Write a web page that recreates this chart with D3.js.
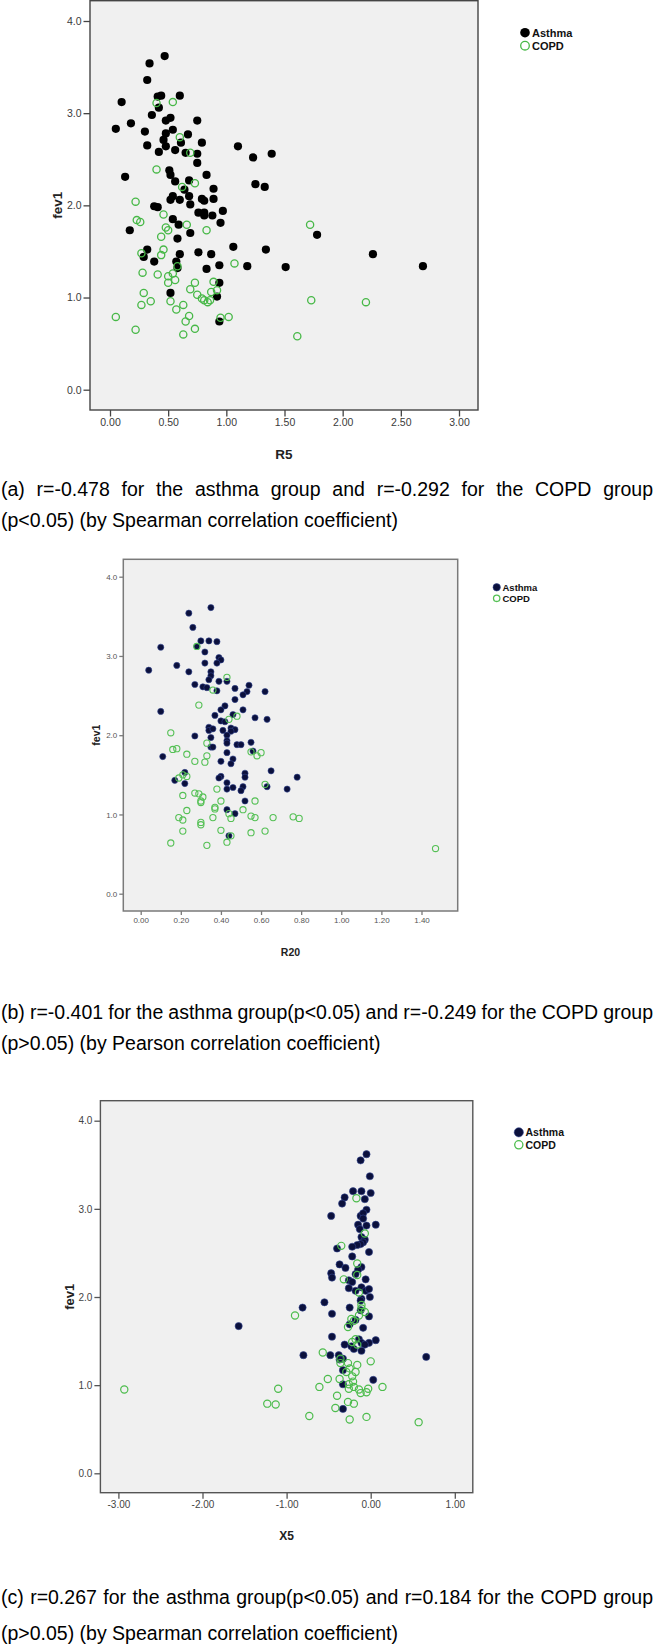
<!DOCTYPE html>
<html><head><meta charset="utf-8">
<script src="https://cdn.jsdelivr.net/npm/d3@7"></script>
<style>body{margin:0;background:#fff}svg{display:block}</style>
</head><body>
<script>
// ---------- DATA ----------
const yTicks = [0, 1, 2, 3, 4];
const r5Ticks = [0, 0.5, 1, 1.5, 2, 2.5, 3];
const r20Ticks = [0, 0.2, 0.4, 0.6, 0.8, 1.0, 1.2, 1.4];
const x5Ticks = [-3, -2, -1, 0, 1];
const seriesNames = ["Asthma", "COPD"];
const yLabel = "fev1";
const xLabels = ["R5", "R20", "X5"];

const r5Asthma = [[0.47,3.62],[0.34,3.54],[0.32,3.36],[0.10,3.12],[0.41,3.18],[0.44,3.19],[0.60,3.19],[0.42,3.06],[0.36,2.98],[0.48,2.92],[0.52,2.95],[0.75,2.92],[0.05,2.83],[0.18,2.89],[0.30,2.80],[0.48,2.78],[0.54,2.82],[0.67,2.77],[0.32,2.65],[0.46,2.71],[0.48,2.64],[0.42,2.58],[0.61,2.68],[0.79,2.68],[0.56,2.60],[0.65,2.57],[0.75,2.56],[0.75,2.46],[1.10,2.64],[1.23,2.52],[1.39,2.56],[0.13,2.31],[0.51,2.38],[0.52,2.33],[0.83,2.33],[0.56,2.26],[0.68,2.27],[0.64,2.17],[1.25,2.23],[1.33,2.20],[0.89,2.18],[0.54,2.10],[0.52,2.06],[0.60,2.06],[0.68,2.10],[0.79,2.07],[0.81,2.05],[0.89,2.07],[0.69,2.01],[0.38,1.99],[0.41,1.98],[0.76,1.92],[0.81,1.92],[0.81,1.89],[0.88,1.89],[0.97,1.94],[0.54,1.85],[0.59,1.79],[0.95,1.81],[1.78,1.68],[0.17,1.73],[0.69,1.70],[0.58,1.64],[0.32,1.52],[1.06,1.55],[1.34,1.52],[0.29,1.44],[0.38,1.39],[0.60,1.47],[0.57,1.39],[0.58,1.32],[0.76,1.49],[0.87,1.47],[0.94,1.35],[0.83,1.31],[1.18,1.34],[1.51,1.33],[0.94,1.16],[0.52,1.05],[0.92,1.01],[0.94,0.74],[2.26,1.47],[2.69,1.34]];
const r5Copd = [[0.40,3.11],[0.54,3.12],[0.60,2.74],[0.69,2.57],[0.40,2.39],[0.73,2.24],[0.62,2.20],[0.22,2.04],[0.46,1.90],[0.23,1.84],[0.26,1.82],[0.66,1.79],[0.48,1.76],[0.50,1.73],[0.83,1.73],[1.72,1.79],[0.44,1.66],[0.27,1.48],[0.44,1.46],[0.46,1.52],[0.58,1.34],[1.07,1.37],[0.28,1.27],[0.41,1.25],[0.50,1.23],[0.54,1.26],[0.56,1.19],[0.50,1.16],[0.73,1.16],[0.89,1.17],[0.69,1.09],[0.29,1.05],[0.75,1.03],[0.87,1.06],[0.92,1.08],[0.79,0.99],[0.81,0.97],[0.84,0.95],[0.86,0.97],[0.35,0.96],[0.52,0.96],[0.27,0.92],[0.63,0.92],[0.57,0.87],[0.05,0.79],[0.68,0.80],[0.95,0.78],[1.02,0.79],[0.65,0.74],[0.22,0.65],[0.73,0.66],[0.63,0.60],[1.61,0.58],[1.73,0.97],[2.20,0.95]];

const r20Asthma = [[0.35,3.61],[0.24,3.54],[0.26,3.36],[0.10,3.11],[0.30,3.19],[0.34,3.19],[0.38,3.18],[0.28,3.12],[0.32,3.05],[0.04,2.82],[0.18,2.88],[0.24,2.80],[0.32,2.91],[0.39,2.98],[0.40,2.95],[0.38,2.91],[0.35,2.80],[0.35,2.75],[0.34,2.70],[0.27,2.64],[0.31,2.61],[0.33,2.60],[0.39,2.68],[0.38,2.56],[0.43,2.68],[0.47,2.59],[0.54,2.63],[0.53,2.55],[0.51,2.51],[0.47,2.45],[0.62,2.55],[0.10,2.30],[0.42,2.37],[0.40,2.32],[0.51,2.32],[0.37,2.25],[0.46,2.26],[0.57,2.22],[0.63,2.20],[0.40,2.18],[0.42,2.17],[0.34,2.10],[0.34,2.06],[0.36,2.08],[0.41,2.06],[0.45,2.09],[0.47,2.07],[0.45,2.05],[0.27,1.99],[0.43,2.00],[0.43,1.93],[0.43,1.90],[0.35,1.97],[0.48,1.88],[0.50,1.88],[0.55,1.91],[0.35,1.85],[0.36,1.85],[0.56,1.80],[0.11,1.73],[0.43,1.78],[0.46,1.70],[0.45,1.64],[0.40,1.67],[0.65,1.55],[0.22,1.53],[0.52,1.52],[0.52,1.47],[0.40,1.48],[0.39,1.46],[0.78,1.47],[0.17,1.43],[0.22,1.39],[0.43,1.40],[0.46,1.34],[0.43,1.32],[0.51,1.35],[0.50,1.30],[0.63,1.35],[0.73,1.32],[0.52,1.17],[0.43,1.06],[0.47,1.01],[0.44,0.73]];
const r20Copd = [[0.28,3.12],[0.43,2.73],[0.36,2.57],[0.29,2.38],[0.44,2.20],[0.48,2.24],[0.15,2.03],[0.16,1.82],[0.18,1.83],[0.23,1.76],[0.33,1.90],[0.33,1.74],[0.27,1.67],[0.32,1.66],[0.55,1.79],[0.58,1.74],[0.60,1.78],[0.19,1.46],[0.23,1.48],[0.21,1.50],[0.62,1.38],[0.38,1.32],[0.27,1.27],[0.21,1.24],[0.29,1.26],[0.31,1.22],[0.30,1.17],[0.30,1.15],[0.40,1.17],[0.57,1.17],[0.37,1.09],[0.37,1.07],[0.23,1.05],[0.51,1.06],[0.44,1.01],[0.19,0.96],[0.21,0.93],[0.36,0.96],[0.45,0.95],[0.55,0.98],[0.57,0.96],[0.66,0.96],[0.76,0.97],[0.79,0.95],[0.30,0.90],[0.30,0.87],[0.21,0.79],[0.40,0.80],[0.55,0.77],[0.62,0.79],[0.45,0.73],[0.15,0.64],[0.33,0.61],[0.43,0.65],[1.47,0.57]];

const x5Asthma = [[-0.05,3.62],[-0.12,3.55],[-0.01,3.37],[-0.21,3.20],[-0.11,3.20],[0.00,3.18],[-0.31,3.13],[-0.34,3.06],[-0.07,3.11],[-0.05,2.99],[-0.47,2.92],[-0.12,2.92],[-0.09,2.95],[-0.09,2.89],[-0.15,2.82],[-0.05,2.81],[0.06,2.82],[-0.13,2.77],[-0.11,2.68],[-0.07,2.65],[-0.09,2.62],[-0.12,2.60],[-0.16,2.59],[-0.22,2.57],[-0.40,2.55],[-0.22,2.46],[-0.02,2.51],[-0.37,2.37],[-0.30,2.33],[-0.11,2.34],[-0.15,2.31],[-0.47,2.27],[-0.46,2.22],[-0.18,2.26],[-0.26,2.19],[-0.22,2.17],[-0.06,2.20],[-0.11,2.11],[-0.26,2.10],[-0.18,2.07],[-0.06,2.07],[-0.02,2.09],[-0.01,2.00],[-0.11,1.98],[-0.12,1.96],[-0.55,1.94],[-0.81,1.88],[-0.25,1.88],[-0.12,1.85],[-0.46,1.81],[-0.02,1.78],[-1.57,1.67],[-0.18,1.74],[-0.25,1.69],[-0.09,1.65],[-0.46,1.55],[-0.14,1.52],[-0.11,1.48],[0.06,1.51],[-0.02,1.48],[-0.07,1.46],[-0.31,1.46],[-0.23,1.44],[-0.20,1.41],[-0.11,1.39],[-0.80,1.34],[-0.48,1.34],[-0.38,1.34],[-0.33,1.30],[0.66,1.32],[-0.37,1.29],[-0.33,1.17],[0.03,1.06],[-0.33,1.01],[-0.33,0.73]];
const x5Copd = [[-0.17,3.12],[-0.35,2.58],[-0.07,2.72],[-0.16,2.38],[-0.32,2.20],[-0.16,2.25],[-0.14,2.05],[-0.11,1.91],[-0.11,1.87],[-0.07,1.83],[-0.14,1.79],[-0.90,1.79],[-0.23,1.75],[-0.20,1.73],[-0.27,1.66],[-0.18,1.52],[-0.22,1.49],[-0.16,1.46],[-0.57,1.37],[-0.36,1.30],[0.00,1.27],[-0.36,1.25],[-0.27,1.25],[-0.16,1.23],[-0.25,1.19],[-0.18,1.15],[-0.29,1.15],[-0.22,1.10],[-0.51,1.07],[-0.37,1.07],[-0.21,1.04],[-0.26,1.01],[-1.10,0.96],[-0.61,0.98],[-0.26,0.96],[-0.20,0.98],[-0.14,0.95],[-0.03,0.96],[0.14,0.98],[-2.93,0.95],[-0.12,0.91],[-0.05,0.92],[-0.40,0.88],[-1.23,0.79],[-1.13,0.78],[-0.27,0.81],[-0.20,0.79],[-0.73,0.65],[-0.42,0.74],[-0.05,0.64],[-0.25,0.61],[0.57,0.58]];

const capA = ["(a) r=-0.478 for the asthma group and r=-0.292 for the COPD group", "(p<0.05) (by Spearman correlation coefficient)"];
const capB = ["(b) r=-0.401 for the asthma group(p<0.05) and r=-0.249 for the COPD group", "(p>0.05) (by Pearson correlation coefficient)"];
const capC = ["(c) r=0.267 for the asthma group(p<0.05) and r=0.184 for the COPD group", "(p>0.05) (by Spearman correlation coefficient)"];

// ---------- LAYOUT ----------
const W = 656, H = 1651;
const FONT = "'Liberation Sans', Arial, Helvetica, sans-serif";
const svg = d3.select("body").append("svg").attr("width", W).attr("height", H)
  .style("font-family", FONT);

const panels = [
  {asthma: r5Asthma, copd: r5Copd, xTicks: r5Ticks, xLabel: xLabels[0],
   xRange: [110, 459], yRange: [389.7, 21],
   frame: {l: 90, r: 478, t: 0.7, b: 410}, frameColor: "#444", frameW: 1.4,
   tickLen: 6.5, tickFont: 10.5, tickColor: "#3a3a3a",
   ylabX: 57, ylabSize: 13.5, xlabY: 459, xlabSize: 13.5,
   r: 4.1, rc: 3.6, sw: 1.3, dot: "#000", dotStroke: "none", green: "#47b847",
   leg: {x: 525, y: 32.7, dy: 13, r: 4.8, tx: 532, size: 11},
   cap: capA, capY: [495.5, 527]},
  {asthma: r20Asthma, copd: r20Copd, xTicks: r20Ticks, xLabel: xLabels[1],
   xRange: [140.7, 421.5], yRange: [893.7, 576.7],
   frame: {l: 123.3, r: 457.7, t: 559.3, b: 911}, frameColor: "#7a7a7a", frameW: 1.5,
   tickLen: 4, tickFont: 8, tickColor: "#555",
   ylabX: 96.5, ylabSize: 10.5, xlabY: 956, xlabSize: 10.5,
   r: 3.1, rc: 3.1, sw: 1.1, dot: "#0b103c", dotStroke: "#33448f", green: "#55c055",
   leg: {x: 496.7, y: 587.3, dy: 11, r: 3.7, tx: 502.5, size: 9.5},
   cap: capB, capY: [1018.5, 1050]},
  {asthma: x5Asthma, copd: x5Copd, xTicks: x5Ticks, xLabel: xLabels[2],
   xRange: [118.4, 454.8], yRange: [1473.3, 1120.7],
   frame: {l: 100.4, r: 472.8, t: 1100.7, b: 1492.7}, frameColor: "#555", frameW: 1.4,
   tickLen: 6, tickFont: 10, tickColor: "#444",
   ylabX: 69, ylabSize: 13, xlabY: 1540, xlabSize: 12,
   r: 3.6, rc: 3.6, sw: 1.2, dot: "#0b103c", dotStroke: "#33448f", green: "#4cbc4c",
   leg: {x: 518.8, y: 1132.3, dy: 12.5, r: 4.6, tx: 525.5, size: 10.5},
   cap: capC, capY: [1604, 1640]}
];

const capSize = 19.5;

function justifyLine(g, text, x0, width, y) {
  const words = text.split(" ");
  const els = words.map(w => g.append("text").attr("y", y).attr("font-size", capSize)
    .attr("fill", "#000").text(w));
  const widths = els.map(e => e.node().getComputedTextLength());
  const gap = (width - d3.sum(widths)) / (words.length - 1);
  let x = x0;
  els.forEach((e, i) => { e.attr("x", x); x += widths[i] + gap; });
}

panels.forEach(p => {
  const g = svg.append("g");
  const f = p.frame;
  const x = d3.scaleLinear().domain([p.xTicks[0], p.xTicks[p.xTicks.length - 1]]).range(p.xRange);
  const y = d3.scaleLinear().domain([yTicks[0], yTicks[yTicks.length - 1]]).range(p.yRange);

  // plot background + frame
  g.append("rect").attr("x", f.l).attr("y", f.t).attr("width", f.r - f.l).attr("height", f.b - f.t)
    .attr("fill", "#f0f0f0").attr("stroke", p.frameColor).attr("stroke-width", p.frameW);

  // axes
  const ya = g.append("g").attr("transform", `translate(${f.l},0)`)
    .call(d3.axisLeft(y).tickValues(yTicks).tickSize(p.tickLen).tickSizeOuter(0).tickPadding(2)
      .tickFormat(d => d.toFixed(1)));
  const xa = g.append("g").attr("transform", `translate(0,${f.b})`)
    .call(d3.axisBottom(x).tickValues(p.xTicks).tickSize(p.tickLen).tickSizeOuter(0).tickPadding(2)
      .tickFormat(d => d.toFixed(2)));
  [ya, xa].forEach(a => {
    a.select(".domain").remove();
    a.selectAll(".tick line").attr("stroke", p.frameColor).attr("stroke-width", 1.3);
    a.selectAll(".tick text").attr("fill", p.tickColor).attr("font-size", p.tickFont)
      .attr("font-family", FONT);
  });

  // axis titles
  g.append("text").attr("transform", `translate(${p.ylabX},${(f.t + f.b) / 2}) rotate(-90)`)
    .attr("dy", "0.36em").attr("text-anchor", "middle").attr("font-weight", "bold")
    .attr("font-size", p.ylabSize).attr("fill", "#222").text(yLabel);
  g.append("text").attr("x", (f.l + f.r) / 2).attr("y", p.xlabY).attr("text-anchor", "middle")
    .attr("font-weight", "bold").attr("font-size", p.xlabSize).attr("fill", "#222").text(p.xLabel);

  // points: asthma first, COPD on top
  g.append("g").selectAll("circle").data(p.asthma).join("circle")
    .attr("cx", d => x(d[0])).attr("cy", d => y(d[1])).attr("r", p.r)
    .attr("fill", p.dot).attr("stroke", p.dotStroke).attr("stroke-width", 0.6);
  g.append("g").selectAll("circle").data(p.copd).join("circle")
    .attr("cx", d => x(d[0])).attr("cy", d => y(d[1])).attr("r", p.rc)
    .attr("fill", "none").attr("stroke", p.green).attr("stroke-width", p.sw);

  // legend
  const L = p.leg;
  g.append("circle").attr("cx", L.x).attr("cy", L.y).attr("r", L.r)
    .attr("fill", p.dot).attr("stroke", p.dotStroke).attr("stroke-width", 0.6);
  g.append("circle").attr("cx", L.x).attr("cy", L.y + L.dy).attr("r", L.r - 0.5)
    .attr("fill", "none").attr("stroke", p.green).attr("stroke-width", 1.3);
  seriesNames.forEach((s, i) => {
    g.append("text").attr("x", L.tx).attr("y", L.y + i * L.dy).attr("dy", "0.36em")
      .attr("font-weight", "bold").attr("font-size", L.size).attr("fill", "#111").text(s);
  });

  // caption
  justifyLine(g, p.cap[0], 1, 652, p.capY[0]);
  g.append("text").attr("x", 1).attr("y", p.capY[1]).attr("font-size", capSize)
    .attr("fill", "#000").text(p.cap[1]);
});
</script>
</body></html>
